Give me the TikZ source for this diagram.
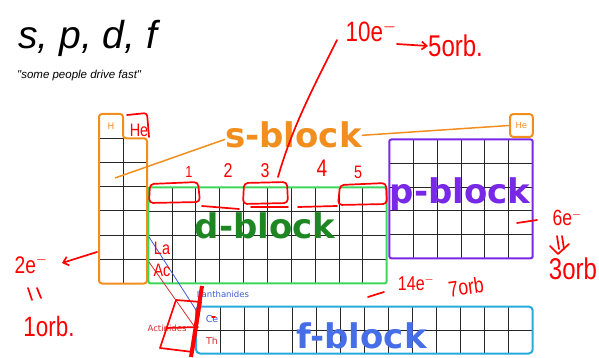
\documentclass[tikz,border=0pt]{standalone}
\usepackage{fontspec}
\newfontfamily\arialfont{Liberation Sans}
\newfontfamily\blockfont{DejaVu Sans}
\newfontfamily\handfont{Liberation Sans}
\usetikzlibrary{arrows.meta}

\definecolor{sorange}{RGB}{242,142,30}
\definecolor{dgreen}{RGB}{30,135,35}
\definecolor{dborder}{RGB}{60,215,90}
\definecolor{ppurple}{RGB}{120,40,230}
\definecolor{fblue}{RGB}{70,110,230}
\definecolor{fborder}{RGB}{40,170,220}
\definecolor{lblue}{RGB}{60,90,220}
\definecolor{ared}{RGB}{215,45,45}
\definecolor{hred}{RGB}{255,0,0}

\newcommand{\hw}[2]{\scalebox{0.8}[1]{\fontsize{#1}{#1}\selectfont #2}}

\tikzset{
  gridline/.style={black!85, line width=1pt},
  blocklabel/.style={font=\blockfont\bfseries\fontsize{34}{34}\selectfont, inner sep=0pt, anchor=base},
  smalllabel/.style={font=\blockfont\fontsize{8.5}{8.5}\selectfont, inner sep=0pt},
  pen/.style={hred, line width=1.7pt, line cap=round, line join=round},
  hand/.style={text=hred, font=\handfont, inner sep=0pt},
}

\begin{document}
\begin{tikzpicture}[x=1pt, y=-1pt]
        \useasboundingbox (0,0) rectangle (599,358);

        % Titolo
        \node[anchor=base west, inner sep=0pt, font=\arialfont\itshape\fontsize{39}{39}\selectfont] (title) at (18,48.3) {s, p, d, f};
        \node[anchor=base west, inner sep=0pt, font=\arialfont\itshape\fontsize{11.5}{11.5}\selectfont] (motto) at (17,79) {"some people drive fast"};

        % Griglia s-block
        \draw[gridline] (99,138.3) -- (123,138.3);
        \foreach \r in {1,...,5}
          \draw[gridline] (99,{138.3+24.2*\r}) -- (147,{138.3+24.2*\r});
        \draw[gridline] (123,138.3) -- (123,283.5);
        \draw[sorange, line width=2pt, rounded corners=3pt]
          (99,283.5) -- (99,114) -- (123,114) -- (123,138.3) -- (147,138.3) -- (147,283.5) -- cycle;
        \node[smalllabel, text=sorange, font=\blockfont\fontsize{9}{9}\selectfont] (hcell) at (111,126.5) {H};
        \node[draw=sorange, line width=2pt, rounded corners=3pt, minimum size=22.7pt, inner sep=0pt,
              text=sorange, font=\blockfont\fontsize{8.5}{8.5}\selectfont] (hebox) at (521.4,125.5) {He};

        % Griglia d-block
        \foreach \c in {1,...,9}
          \draw[gridline] ({148.3+23.84*\c},187.3) -- ({148.3+23.84*\c},283.3);
        \foreach \r in {1,2,3}
          \draw[gridline] (148.3,{187.3+24*\r}) -- (386.7,{187.3+24*\r});
        \draw[dborder, line width=2pt, rounded corners=2pt] (148.3,187.3) rectangle (386.7,283.3);

        % Griglia p-block
        \foreach \c in {1,...,5}
          \draw[gridline] ({389.3+23.9*\c},139.5) -- ({389.3+23.9*\c},258.3);
        \foreach \r in {1,...,4}
          \draw[gridline] (389.3,{139.5+23.76*\r}) -- (532.7,{139.5+23.76*\r});
        \draw[ppurple, line width=2pt, rounded corners=2pt] (389.3,139.5) rectangle (532.7,258.3);

        % Griglia f-block
        \foreach \c in {1,...,13}
          \draw[gridline] ({196+24.05*\c},306.5) -- ({196+24.05*\c},353.5);
        \draw[gridline] (196,330) -- (532.7,330);
        \draw[fborder, line width=2pt, rounded corners=4pt] (196,306.5) rectangle (532.7,353.5);

        % Etichette dei blocchi
        \node[blocklabel, text=sorange] (slabel) at (293.5,148) {s-block};
        \node[blocklabel, text=dgreen] (dlabel) at (265,238) {d-block};
        \node[blocklabel, text=ppurple] (plabel) at (460,203) {p-block};
        \node[blocklabel, text=fblue] (flabel) at (361.5,348) {f-block};

        % Linee dell'etichetta s
        \coordinate (sinside) at (115,178);
        \draw[sorange, line width=1.5pt] ([yshift=-4pt]slabel.west) -- (sinside);
        \draw[sorange, line width=1.5pt] (slabel.east) -- (hebox.west);

        % Lantanidi e attinidi
        \coordinate (lantop) at (149,237);
        \coordinate (lanend) at (196,310);
        \coordinate (acttop) at (149,262);
        \coordinate (actend) at (194,326);
        \draw[lblue, line width=0.8pt] (lantop) -- (lanend);
        \draw[ared, line width=0.8pt] (acttop) -- (actend);
        \node[smalllabel, text=lblue] (lanth) at (223,294) {Lanthanides};
        \node[smalllabel, text=ared] (actin) at (167,328) {Actinides};
        \node[smalllabel, text=lblue, font=\blockfont\fontsize{9.5}{9.5}\selectfont] (ce) at (212,319) {Ce};
        \node[smalllabel, text=ared, font=\blockfont\fontsize{9.5}{9.5}\selectfont] (th) at (212,341) {Th};

        % Annotazioni a mano: d
        \draw[pen] (337,40) .. controls (312,90) and (292,128) .. (278,177);
        \node[hand] (tene) at (371,31) {\hw{28}{10e$^-$}};
        \node[hand, anchor=west] (fiveorb) at (428,46) {\hw{30}{5orb.}};
        \coordinate (arrfrom) at (397,44);
        \draw[pen, -{Straight Barb[length=5pt, width=8pt]}] (arrfrom) -- (fiveorb.west);
        \node[hand] (one) at (189,172) {\hw{16}{1}};
        \node[hand] (two) at (228,171) {\hw{20}{2}};
        \node[hand] (three) at (265,171) {\hw{20}{3}};
        \node[hand] (four) at (322,168) {\hw{24}{4}};
        \node[hand] (five) at (358,172) {\hw{18}{5}};
        \draw[pen, rounded corners=4pt] (150,184) -- (198,182) -- (200,202) -- (149,203) -- cycle;
        \draw[pen, rounded corners=4pt] (244,183) -- (287,182) -- (288,203) -- (243,204) -- cycle;
        \draw[pen, rounded corners=4pt] (340,185) -- (386,183) -- (387,204) -- (338,205) -- cycle;
        \draw[pen] (202,206) -- (239,209);
        \draw[pen] (251,207) -- (288,207);
        \draw[pen] (298,207) -- (337,206);

        % Annotazioni a mano: s
        \draw[pen, rounded corners=3pt] (127,115) -- (147,113) -- (149,137);
        \node[hand] (hehand) at (139,130) {\hw{18}{He}};
        \node[hand] (twoe) at (31,264) {\hw{24}{2e$^-$}};
        \coordinate (sedge) at (97,252);
        \coordinate (twoetip) at (62,263);
        \draw[pen, -{Straight Barb[length=5pt, width=9pt]}] (sedge) -- (twoetip);
        \draw[pen] (28,288) -- (32,300);
        \draw[pen] (37,288) -- (41,298);
        \node[hand] (oneorb) at (49,326) {\hw{28}{1orb.}};

        % Annotazioni a mano: f
        \node[hand] (la) at (162,248) {\hw{18}{La}};
        \node[hand] (ac) at (162,270) {\hw{18}{Ac}};
        \draw[pen] (176,300) -- (201,302) -- (193,352) -- (160,348) -- cycle;
        \draw[pen] (166,328) -- (198,327);
        \draw[hred, line width=4pt] (202,286) -- (191,357);
        \draw[pen] (212,317) -- (215,317);
        \draw[pen] (368,297) -- (384,292);
        \node[hand] (fourteene) at (416,283) {\hw{20}{14e$^-$}};
        \node[hand, rotate=8] (sevenorb) at (466,287) {\hw{22}{7orb}};

        % Annotazioni a mano: p
        \draw[pen] (517,223) -- (537,220);
        \node[hand] (sixe) at (567,218) {\hw{22}{6e$^-$}};
        \draw[pen] (557,236) -- (559,249);
        \draw[pen] (562,236) -- (564,249);
        \draw[pen] (550,246) -- (558,254) -- (569,244);
        \node[hand] (threeorb) at (573,269) {\hw{30}{3orb}};
    \end{tikzpicture}
\end{document}
